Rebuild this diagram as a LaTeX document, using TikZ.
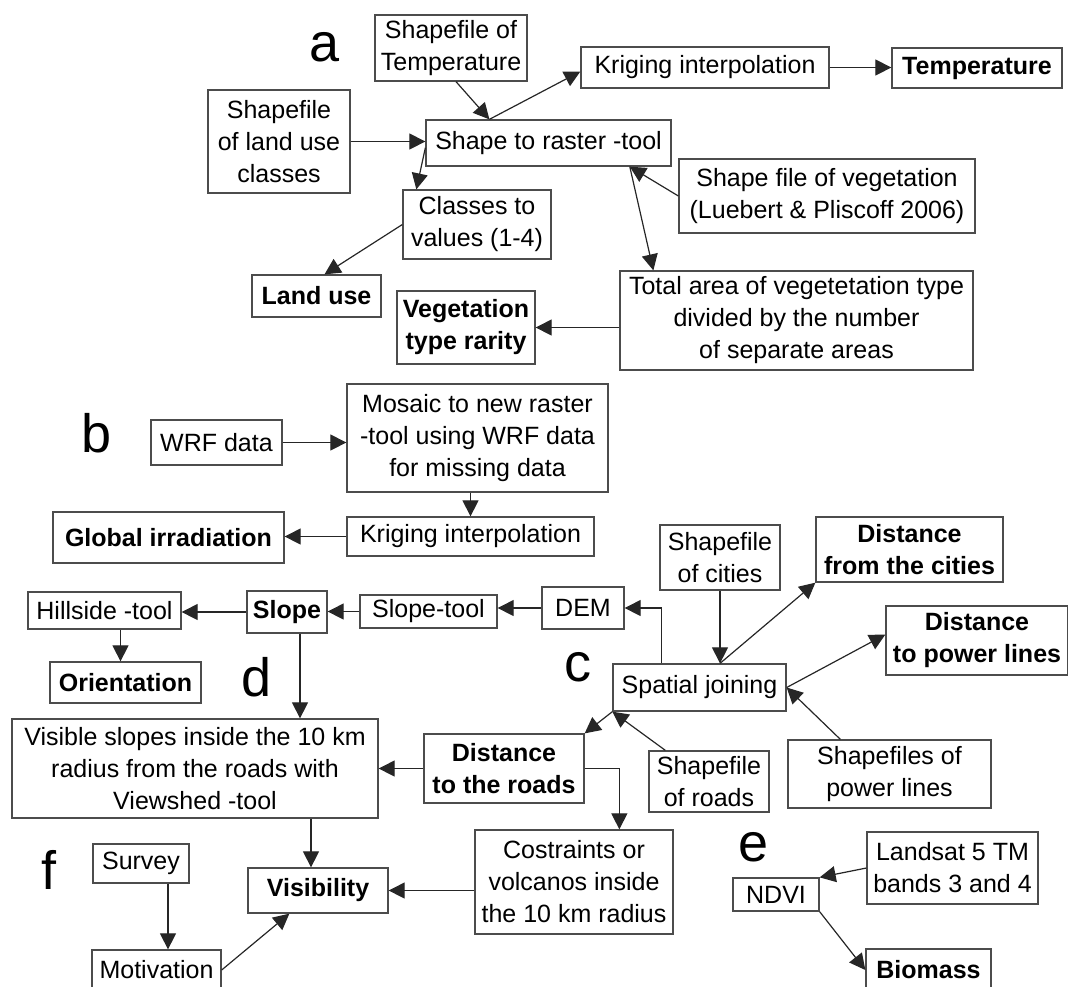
\documentclass[tikz,border=0pt]{standalone}
\usepackage{fontspec}
\setmainfont{Liberation Sans}
\usetikzlibrary{arrows.meta,calc}
\tikzset{
  box/.style={draw=black!70, line width=0.65pt, align=center, inner sep=0pt, font=\fontsize{12.5}{16}\selectfont},
  bbox/.style={box, font=\fontsize{12.5}{16}\selectfont\bfseries},
  arr/.style={-{Triangle[length=8pt,width=8pt]}, line width=0.6pt, draw=black!85},
  lbl/.style={font=\fontsize{27}{30}\selectfont, inner sep=0pt}
}
\begin{document}
\begin{tikzpicture}[x=0.5pt,y=-0.5pt]
\clip (0,0) rectangle (1068,986);
% section labels
\node[lbl] (la) at (325,47) {a};
\node[lbl] (lb) at (97,433) {b};
\node[lbl] (lc) at (578,667) {c};
\node[lbl] (ld) at (257,677) {d};
\node[lbl] (le) at (754,847) {e};
\node[lbl] (lf) at (49,870) {f};
% a
\node[box, minimum width=76pt, minimum height=33pt] (tshp) at (451,48) {Shapefile of\\Temperature};
\node[box, minimum width=71pt, minimum height=51.5pt] (luc) at (279,141.5) {Shapefile\\of land use\\classes};
\node[box, minimum width=122.5pt, minimum height=23pt] (str) at (548.5,143) {Shape to raster -tool};
\node[box, minimum width=124pt, minimum height=20.5pt] (krig) at (705,67.5) {Kriging interpolation};
\node[bbox, minimum width=85pt, minimum height=20pt] (temp) at (977,68) {Temperature};
\node[box, minimum width=148pt, minimum height=37pt] (veg) at (827,196) {Shape file of vegetation\\(Luebert \& Pliscoff 2006)};
\node[box, minimum width=74pt, minimum height=34.5pt] (ctv) at (477,224.5) {Classes to\\values (1-4)};
\node[bbox, minimum width=64.5pt, minimum height=21pt] (lu) at (316.5,296) {Land use};
\node[bbox, minimum width=69pt, minimum height=36.5pt] (vtr) at (466,327.5) {Vegetation\\type rarity};
\node[box, minimum width=176.5pt, minimum height=49.5pt] (tot) at (796.5,320.5) {Total area of vegetetation type\\divided by the number\\of separate areas};
% b
\node[box, minimum width=65.5pt, minimum height=22.5pt] (wrf) at (216.5,442.5) {WRF data};
\node[box, minimum width=130.5pt, minimum height=54pt] (mos) at (477.5,438) {Mosaic to new raster\\-tool using WRF data\\for missing data};
\node[box, minimum width=123.5pt, minimum height=19.5pt] (krigb) at (470.5,536.5) {Kriging interpolation};
\node[bbox, minimum width=115.5pt, minimum height=25.5pt] (glob) at (168.5,537.5) {Global irradiation};
% c, d
\node[box, minimum width=76.5pt, minimum height=18.5pt] (hill) at (104.5,610.5) {Hillside -tool};
\node[bbox, minimum width=40pt, minimum height=21pt] (slope) at (287,612) {Slope};
\node[box, minimum width=68.5pt, minimum height=16.5pt] (slt) at (428.5,611.5) {Slope-tool};
\node[box, minimum width=41pt, minimum height=21pt] (dem) at (583,608) {DEM};
\node[bbox, minimum width=75.5pt, minimum height=20.5pt] (ori) at (125.5,682.5) {Orientation};
\node[box, minimum width=60pt, minimum height=32.5pt] (cities) at (720,557.5) {Shapefile\\of cities};
\node[bbox, minimum width=93.5pt, minimum height=32.5pt] (dcit) at (909.5,549.5) {Distance\\from the cities};
\node[bbox, minimum width=91pt, minimum height=34.5pt] (dpow) at (977,640.5) {Distance\\to power lines};
\node[box, minimum width=86.5pt, minimum height=23.5pt] (sj) at (699.5,687.5) {Spatial joining};
\node[box, minimum width=183pt, minimum height=49.5pt] (vis) at (195,768.5) {Visible slopes inside the 10 km\\radius from the roads with\\Viewshed -tool};
\node[bbox, minimum width=80pt, minimum height=34.5pt] (droad) at (504,768.5) {Distance\\to the roads};
\node[box, minimum width=60pt, minimum height=30.5pt] (sroad) at (709,781.5) {Shapefile\\of roads};
\node[box, minimum width=101.5pt, minimum height=34pt] (spow) at (889.5,774) {Shapefiles of\\power lines};
\node[box, minimum width=99pt, minimum height=52pt] (cons) at (574,882) {Costraints or\\volcanos inside\\the 10 km radius};
\node[bbox, minimum width=70pt, minimum height=22.5pt] (visi) at (318,890.5) {Visibility};
% f
\node[box, minimum width=48pt, minimum height=19.5pt] (survey) at (141,863.5) {Survey};
\node[box, minimum width=64.5pt, minimum height=20pt] (motiv) at (156.5,970) {Motivation};
% e
\node[box, minimum width=85.5pt, minimum height=36pt] (land) at (952.5,868) {Landsat 5 TM\\bands 3 and 4};
\node[box, minimum width=43pt, minimum height=16.5pt] (ndvi) at (776,894.5) {NDVI};
\node[bbox, minimum width=62.5pt, minimum height=21pt] (bio) at (928.5,970) {Biomass};
% connectors a
\coordinate (strtop) at ($(str.north west)!0.26!(str.north east)$);
\coordinate (strbot) at ($(str.south west)!0.83!(str.south east)$);
\draw[arr] ($(tshp.south)+(5,0)$) -- (strtop);
\draw[arr] (strtop) -- ($(krig.west)+(0,4)$);
\draw[arr] (luc.east) -- (luc.east -| str.west);
\draw[arr] ($(str.north west)!0.6!(str.south west)$) -- ($(ctv.north west)+(14,0)$);
\draw[arr] (ctv.west) -- ($(lu.north)+(8,0)$);
\draw[arr] (krig.east) -- (krig.east -| temp.west);
\draw[arr] (veg.west) -- (strbot);
\draw[arr] (strbot) -- ($(tot.north west)+(34,0)$);
\draw[arr] (tot.west |- vtr.east) -- (vtr.east);
% connectors b
\draw[arr] (wrf.east) -- (wrf.east -| mos.west);
\draw[arr] (krigb.north |- mos.south) -- (krigb.north);
\draw[arr] (krigb.west) -- (krigb.west -| glob.east);
% connectors c, d
\coordinate (hs) at ($(hill.south)+(16,0)$);
\coordinate (sjt) at ($(sj.north west)+(49,0)$);
\coordinate (cn) at ($(cons.north west)+(145,0)$);
\coordinate (sd) at ($(slope.south)+(13,0)$);
\coordinate (vv) at ($(visi.north)+(-7,0)$);
\draw[arr] (dem.west) -- (dem.west -| slt.east);
\draw[arr] (slt.west) -- (slt.west -| slope.east);
\draw[arr] (slope.west) -- (slope.west -| hill.east);
\draw[arr] (hs) -- (hs |- ori.north);
\draw[arr] (sjt) |- (dem.east);
\draw[arr] (cities.south) -- (cities.south |- sj.north);
\draw[arr] (cities.south |- sj.north) -- (dcit.south west);
\draw[arr] (sj.east) -- ($(dpow.west)+(0,-6)$);
\draw[arr] ($(spow.north west)+(53,0)$) -- (sj.east);
\draw[arr] ($(sroad.north west)+(17,0)$) -- (sj.south west);
\draw[arr] (sj.south west) -- (droad.north east);
\draw[arr] (droad.west) -- (droad.west -| vis.east);
\draw[arr] (droad.east) -| (cn);
\draw[arr] (sd) -- (sd |- vis.north);
\draw[arr] (vv |- vis.south) -- (vv);
\draw[arr] (cons.west |- visi.east) -- (visi.east);
% connectors f
\coordinate (sv) at ($(survey.south)+(27,0)$);
\draw[arr] (sv) -- (sv |- motiv.north);
\draw[arr] (motiv.east) -- ($(visi.south west)+(42,0)$);
% connectors e
\draw[arr] (land.west) -- (ndvi.north east);
\draw[arr] (ndvi.south east) -- (bio.west);
\end{tikzpicture}
\end{document}
